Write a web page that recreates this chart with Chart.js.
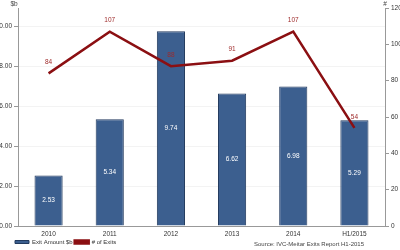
<!DOCTYPE html>
<html lang="en">
<head>
  <meta charset="UTF-8" />
  <title>Exits</title>
  <script src="https://cdn.jsdelivr.net/npm/chart.js"></script>
  <style>
    html, body { margin: 0; padding: 0; background: #fff; }
    #wrap { width: 400px; height: 250px; position: relative; overflow: hidden; }
    #exitsChart { position: absolute; left: -20px; top: 0; }
  </style>
</head>
<body>
  <div id="wrap"><canvas id="exitsChart" width="420" height="250"></canvas></div>

  <script>
    const years = ["2010", "2011", "2012", "2013", "2014", "H1/2015"];
    const exitAmount = [2.53, 5.34, 9.74, 6.62, 6.98, 5.29];
    const exitCount = [84, 107, 88, 91, 107, 54];
    const leftTicks = [0, 2, 4, 6, 8, 10];

    const FONT = "'Liberation Sans', Arial, sans-serif";
    const SHIFT = 20; // canvas começa 20px antes da página

    // legenda mais baixa (altura fixa) e começando em x=15
    const legendHeightPlugin = {
      id: "legendHeight",
      beforeLayout(chart) {
        const lg = chart.legend;
        if (lg && !lg._fixed) {
          const fit = lg.fit;
          lg.fit = function () { fit.call(this); this.height = 13; };
          lg._fixed = true;
        }
      },
      afterLayout(chart) {
        const lg = chart.legend;
        if (lg) {
          const dx = (13 + SHIFT) - lg.left;
          lg.left += dx;
          lg.right += dx;
        }
      }
    };

    // valores dentro das barras e acima da linha
    const labelsPlugin = {
      id: "valueLabels",
      afterDatasetsDraw(chart) {
        const ctx = chart.ctx;
        ctx.save();
        ctx.font = "6.5px " + FONT;
        ctx.textAlign = "center";
        ctx.textBaseline = "middle";

        chart.getDatasetMeta(0).data.forEach((bar, i) => {
          ctx.fillStyle = "#ffffff";
          ctx.fillText(exitAmount[i].toFixed(2), bar.x, (bar.y + bar.base) / 2);
        });
        chart.getDatasetMeta(1).data.forEach((pt, i) => {
          ctx.fillStyle = "#9e2a2a";
          ctx.fillText(exitCount[i], pt.x, pt.y - 11);
        });

        // unidades dos eixos e fonte
        ctx.fillStyle = "#444";
        ctx.fillText("$b", 14 + SHIFT, 4);
        ctx.fillText("#", 385 + SHIFT, 4);
        ctx.textAlign = "right";
        ctx.font = "6px " + FONT;
        ctx.fillText("Source: IVC-Meitar Exits Report H1-2015", 364 + SHIFT, 244);
        ctx.restore();
      }
    };

    const tickFont = { size: 6.5, family: FONT };

    new Chart(document.getElementById("exitsChart").getContext("2d"), {
      data: {
        labels: years,
        datasets: [
          {
            type: "bar",
            label: "Exit Amount $b",
            data: exitAmount,
            yAxisID: "y",
            backgroundColor: "#3c5f8f",
            borderColor: "#223a5e",
            borderWidth: 1,
            barPercentage: 0.46,
            categoryPercentage: 1,
            order: 2
          },
          {
            type: "line",
            label: "# of Exits",
            data: exitCount,
            yAxisID: "y1",
            borderColor: "#8b0f12",
            backgroundColor: "#8b0f12",
            borderWidth: 2.5,
            pointRadius: 0,
            tension: 0,
            order: 1
          }
        ]
      },
      options: {
        responsive: false,
        animation: false,
        layout: { padding: { left: 0, top: 8, right: 0, bottom: 0 } },
        plugins: {
          tooltip: { enabled: false },
          legend: {
            position: "bottom",
            align: "start",
            fullSize: false,
            labels: {
              font: { size: 6, family: FONT },
              color: "#333",
              boxWidth: 14,
              boxHeight: 3,
              padding: 2,
              sort: (a, b) => a.datasetIndex - b.datasetIndex
            }
          }
        },
        scales: {
          x: {
            grid: { display: false, drawTicks: false },
            border: { color: "#999" },
            ticks: { font: tickFont, color: "#333", padding: 4 },
            afterFit: (s) => { s.height = 11; }
          },
          y: {
            position: "left",
            min: 0,
            max: 10.9,
            afterBuildTicks: (s) => { s.ticks = leftTicks.map(v => ({ value: v })); },
            ticks: {
              font: tickFont,
              color: "#333",
              padding: 2,
              callback: (v) => v.toFixed(2)
            },
            grid: { color: "#f3f3f3", tickColor: "#999", tickLength: 4 },
            border: { color: "#999" },
            afterFit: (s) => { s.width = 38; }
          },
          y1: {
            position: "right",
            min: 0,
            max: 120,
            ticks: { stepSize: 20, font: tickFont, color: "#333", padding: 2 },
            grid: { drawOnChartArea: false, tickColor: "#999", tickLength: 4 },
            border: { color: "#999" },
            afterFit: (s) => { s.width = 15; }
          }
        }
      },
      plugins: [legendHeightPlugin, labelsPlugin]
    });
  </script>
</body>
</html>
